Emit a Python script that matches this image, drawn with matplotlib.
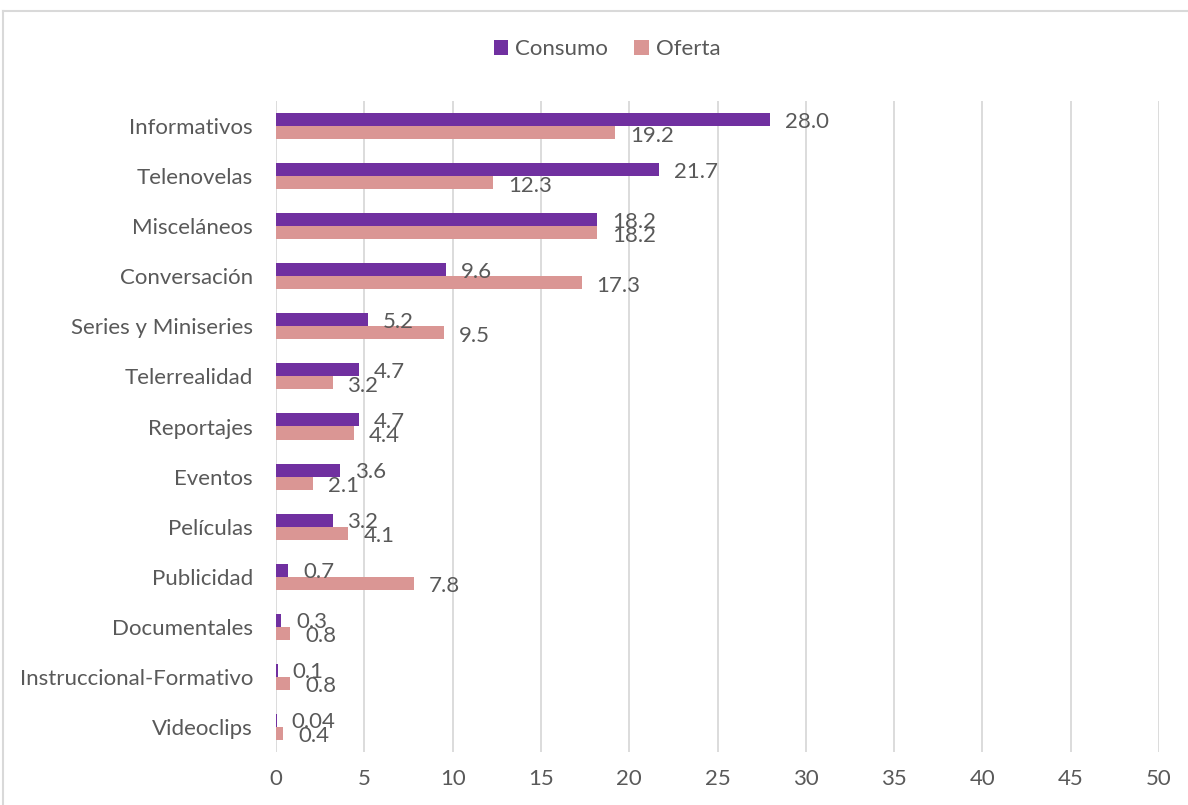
import matplotlib
matplotlib.use("Agg")
import matplotlib.pyplot as plt
from matplotlib.patches import Patch
from matplotlib.lines import Line2D
import numpy as np

categories = ["Informativos", "Telenovelas", "Misceláneos", "Conversación",
              "Series y Miniseries", "Telerrealidad", "Reportajes", "Eventos",
              "Películas", "Publicidad", "Documentales",
              "Instruccional-Formativo", "Videoclips"]
consumo = [28.0, 21.7, 18.2, 9.6, 5.2, 4.7, 4.7, 3.6, 3.2, 0.7, 0.3, 0.1, 0.04]
oferta = [19.2, 12.3, 18.2, 17.3, 9.5, 3.2, 4.4, 2.1, 4.1, 7.8, 0.8, 0.8, 0.4]
consumo_labels = ["28.0", "21.7", "18.2", "9.6", "5.2", "4.7", "4.7", "3.6",
                  "3.2", "0.7", "0.3", "0.1", "0.04"]
oferta_labels = ["19.2", "12.3", "18.2", "17.3", "9.5", "3.2", "4.4", "2.1",
                 "4.1", "7.8", "0.8", "0.8", "0.4"]
xticks = [0, 5, 10, 15, 20, 25, 30, 35, 40, 45, 50]

c_cons = "#7030A0"
c_ofe = "#DA9694"
txt = "#595959"
grid = "#D9D9D9"
font = "Lato"
fs = 16

W, H = 1188, 805
fig = plt.figure(figsize=(W / 100, H / 100), dpi=100)
ax = fig.add_axes([276 / W, 53 / H, (1159 - 276) / W, (752 - 101) / H])

y = np.arange(len(categories))
h = 0.26
ax.barh(y - h / 2, consumo, height=h, color=c_cons, zorder=3)
ax.barh(y + h / 2, oferta, height=h, color=c_ofe, zorder=3)

for yi, v, lab in zip(y, consumo, consumo_labels):
    ax.annotate(lab, (v, yi - h / 2), xytext=(15, -2), textcoords="offset pixels",
                va="center", ha="left", fontsize=fs, color=txt, family=font, zorder=4)
for yi, v, lab in zip(y, oferta, oferta_labels):
    ax.annotate(lab, (v, yi + h / 2), xytext=(15, -3), textcoords="offset pixels",
                va="center", ha="left", fontsize=fs, color=txt, family=font, zorder=4)

ax.set_ylim(len(categories) - 0.5, -0.5)
ax.set_xlim(0, 50)
ax.set_xticks(xticks)
ax.set_xticklabels([str(t) for t in xticks], fontsize=fs, color=txt, family=font)
ax.set_yticks(y)
ax.set_yticklabels(categories, fontsize=fs, color=txt, family=font)
ax.tick_params(axis="both", length=0)
ax.tick_params(axis="x", pad=12)
ax.tick_params(axis="y", pad=16.5)
ax.xaxis.grid(True, color=grid, linewidth=1.3, zorder=0)
ax.yaxis.grid(False)
for s in ax.spines.values():
    s.set_visible(False)

handles = [Patch(facecolor=c_cons, label="Consumo"), Patch(facecolor=c_ofe, label="Oferta")]
leg = fig.legend(handles=handles, loc="center", bbox_to_anchor=(607 / W, 1 - 49 / H),
                 ncol=2, frameon=False, handlelength=0.65, handleheight=0.65,
                 handletextpad=0.3, columnspacing=1.2, prop={"family": font, "size": fs})
for t in leg.get_texts():
    t.set_color(txt)

# figure border (chart area frame)
fig.add_artist(Line2D([3 / W, 3 / W], [0, 1 - 11 / H], color=grid, linewidth=1.5,
                      transform=fig.transFigure))
fig.add_artist(Line2D([3 / W, 1], [1 - 11 / H, 1 - 11 / H], color=grid, linewidth=1.5,
                      transform=fig.transFigure))

fig.savefig("out.png", dpi=100)
